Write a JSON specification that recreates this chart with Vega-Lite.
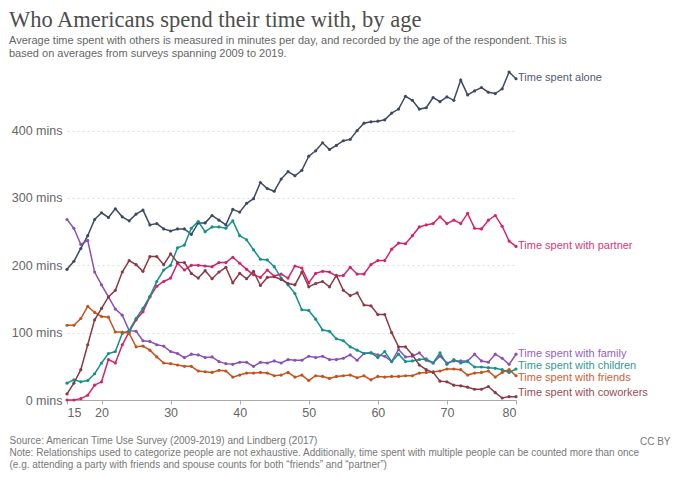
{
  "$schema": "https://vega.github.io/schema/vega-lite/v6.json",
  "width": 449,
  "height": 330,
  "autosize": {"type": "none"},
  "padding": {"left": 67, "top": 70, "right": 164, "bottom": 77},
  "background": "white",
  "title": {
    "text": "Who Americans spend their time with, by age",
    "subtitle": [
      "Average time spent with others is measured in minutes per day, and recorded by the age of the respondent. This is",
      "based on averages from surveys spanning 2009 to 2019."
    ],
    "anchor": "start",
    "frame": "group",
    "dx": -58,
    "offset": 10,
    "font": "Liberation Serif",
    "fontSize": 22.5,
    "fontWeight": "normal",
    "color": "#4d4d4d",
    "subtitleFont": "Liberation Sans",
    "subtitleFontSize": 11,
    "subtitleColor": "#666666",
    "subtitleLineHeight": 13,
    "subtitlePadding": 4
  },
  "datasets": {
    "series": [
      {"age": 15, "who": "alone", "mins": 194}, {"age": 16, "who": "alone", "mins": 206}, {"age": 17, "who": "alone", "mins": 225}, {"age": 18, "who": "alone", "mins": 244},
      {"age": 19, "who": "alone", "mins": 268}, {"age": 20, "who": "alone", "mins": 278}, {"age": 21, "who": "alone", "mins": 271}, {"age": 22, "who": "alone", "mins": 284},
      {"age": 23, "who": "alone", "mins": 272}, {"age": 24, "who": "alone", "mins": 266}, {"age": 25, "who": "alone", "mins": 276}, {"age": 26, "who": "alone", "mins": 282},
      {"age": 27, "who": "alone", "mins": 260}, {"age": 28, "who": "alone", "mins": 262}, {"age": 29, "who": "alone", "mins": 254}, {"age": 30, "who": "alone", "mins": 251},
      {"age": 31, "who": "alone", "mins": 254}, {"age": 32, "who": "alone", "mins": 254}, {"age": 33, "who": "alone", "mins": 246}, {"age": 34, "who": "alone", "mins": 263},
      {"age": 35, "who": "alone", "mins": 263}, {"age": 36, "who": "alone", "mins": 274}, {"age": 37, "who": "alone", "mins": 267}, {"age": 38, "who": "alone", "mins": 260},
      {"age": 39, "who": "alone", "mins": 283}, {"age": 40, "who": "alone", "mins": 279}, {"age": 41, "who": "alone", "mins": 292}, {"age": 42, "who": "alone", "mins": 299},
      {"age": 43, "who": "alone", "mins": 323}, {"age": 44, "who": "alone", "mins": 314}, {"age": 45, "who": "alone", "mins": 310}, {"age": 46, "who": "alone", "mins": 328},
      {"age": 47, "who": "alone", "mins": 339}, {"age": 48, "who": "alone", "mins": 333}, {"age": 49, "who": "alone", "mins": 341}, {"age": 50, "who": "alone", "mins": 362},
      {"age": 51, "who": "alone", "mins": 370}, {"age": 52, "who": "alone", "mins": 382}, {"age": 53, "who": "alone", "mins": 372}, {"age": 54, "who": "alone", "mins": 378},
      {"age": 55, "who": "alone", "mins": 385}, {"age": 56, "who": "alone", "mins": 387}, {"age": 57, "who": "alone", "mins": 400}, {"age": 58, "who": "alone", "mins": 411},
      {"age": 59, "who": "alone", "mins": 413}, {"age": 60, "who": "alone", "mins": 414}, {"age": 61, "who": "alone", "mins": 416}, {"age": 62, "who": "alone", "mins": 426},
      {"age": 63, "who": "alone", "mins": 432}, {"age": 64, "who": "alone", "mins": 451}, {"age": 65, "who": "alone", "mins": 445}, {"age": 66, "who": "alone", "mins": 432},
      {"age": 67, "who": "alone", "mins": 434}, {"age": 68, "who": "alone", "mins": 449}, {"age": 69, "who": "alone", "mins": 443}, {"age": 70, "who": "alone", "mins": 450},
      {"age": 71, "who": "alone", "mins": 445}, {"age": 72, "who": "alone", "mins": 475}, {"age": 73, "who": "alone", "mins": 453}, {"age": 74, "who": "alone", "mins": 459},
      {"age": 75, "who": "alone", "mins": 464}, {"age": 76, "who": "alone", "mins": 457}, {"age": 77, "who": "alone", "mins": 455}, {"age": 78, "who": "alone", "mins": 462},
      {"age": 79, "who": "alone", "mins": 487}, {"age": 80, "who": "alone", "mins": 477},

      {"age": 15, "who": "partner", "mins": 0}, {"age": 16, "who": "partner", "mins": 0}, {"age": 17, "who": "partner", "mins": 2}, {"age": 18, "who": "partner", "mins": 7},
      {"age": 19, "who": "partner", "mins": 22}, {"age": 20, "who": "partner", "mins": 27}, {"age": 21, "who": "partner", "mins": 60}, {"age": 22, "who": "partner", "mins": 55},
      {"age": 23, "who": "partner", "mins": 82}, {"age": 24, "who": "partner", "mins": 101}, {"age": 25, "who": "partner", "mins": 119}, {"age": 26, "who": "partner", "mins": 131},
      {"age": 27, "who": "partner", "mins": 153}, {"age": 28, "who": "partner", "mins": 169}, {"age": 29, "who": "partner", "mins": 176}, {"age": 30, "who": "partner", "mins": 181},
      {"age": 31, "who": "partner", "mins": 203}, {"age": 32, "who": "partner", "mins": 193}, {"age": 33, "who": "partner", "mins": 200}, {"age": 34, "who": "partner", "mins": 200},
      {"age": 35, "who": "partner", "mins": 199}, {"age": 36, "who": "partner", "mins": 198}, {"age": 37, "who": "partner", "mins": 204}, {"age": 38, "who": "partner", "mins": 204},
      {"age": 39, "who": "partner", "mins": 212}, {"age": 40, "who": "partner", "mins": 203}, {"age": 41, "who": "partner", "mins": 194}, {"age": 42, "who": "partner", "mins": 186},
      {"age": 43, "who": "partner", "mins": 182}, {"age": 44, "who": "partner", "mins": 193}, {"age": 45, "who": "partner", "mins": 184}, {"age": 46, "who": "partner", "mins": 187},
      {"age": 47, "who": "partner", "mins": 181}, {"age": 48, "who": "partner", "mins": 199}, {"age": 49, "who": "partner", "mins": 196}, {"age": 50, "who": "partner", "mins": 174},
      {"age": 51, "who": "partner", "mins": 188}, {"age": 52, "who": "partner", "mins": 191}, {"age": 53, "who": "partner", "mins": 190}, {"age": 54, "who": "partner", "mins": 184},
      {"age": 55, "who": "partner", "mins": 185}, {"age": 56, "who": "partner", "mins": 197}, {"age": 57, "who": "partner", "mins": 187}, {"age": 58, "who": "partner", "mins": 187},
      {"age": 59, "who": "partner", "mins": 201}, {"age": 60, "who": "partner", "mins": 207}, {"age": 61, "who": "partner", "mins": 207}, {"age": 62, "who": "partner", "mins": 224},
      {"age": 63, "who": "partner", "mins": 233}, {"age": 64, "who": "partner", "mins": 232}, {"age": 65, "who": "partner", "mins": 244}, {"age": 66, "who": "partner", "mins": 257},
      {"age": 67, "who": "partner", "mins": 260}, {"age": 68, "who": "partner", "mins": 262}, {"age": 69, "who": "partner", "mins": 272}, {"age": 70, "who": "partner", "mins": 262},
      {"age": 71, "who": "partner", "mins": 267}, {"age": 72, "who": "partner", "mins": 262}, {"age": 73, "who": "partner", "mins": 277}, {"age": 74, "who": "partner", "mins": 255},
      {"age": 75, "who": "partner", "mins": 254}, {"age": 76, "who": "partner", "mins": 267}, {"age": 77, "who": "partner", "mins": 274}, {"age": 78, "who": "partner", "mins": 258},
      {"age": 79, "who": "partner", "mins": 236}, {"age": 80, "who": "partner", "mins": 228},

      {"age": 15, "who": "family", "mins": 268}, {"age": 16, "who": "family", "mins": 255}, {"age": 17, "who": "family", "mins": 231}, {"age": 18, "who": "family", "mins": 237},
      {"age": 19, "who": "family", "mins": 190}, {"age": 20, "who": "family", "mins": 171}, {"age": 21, "who": "family", "mins": 153}, {"age": 22, "who": "family", "mins": 135},
      {"age": 23, "who": "family", "mins": 126}, {"age": 24, "who": "family", "mins": 103}, {"age": 25, "who": "family", "mins": 102}, {"age": 26, "who": "family", "mins": 88},
      {"age": 27, "who": "family", "mins": 87}, {"age": 28, "who": "family", "mins": 82}, {"age": 29, "who": "family", "mins": 80}, {"age": 30, "who": "family", "mins": 72},
      {"age": 31, "who": "family", "mins": 69}, {"age": 32, "who": "family", "mins": 63}, {"age": 33, "who": "family", "mins": 68}, {"age": 34, "who": "family", "mins": 67},
      {"age": 35, "who": "family", "mins": 63}, {"age": 36, "who": "family", "mins": 64}, {"age": 37, "who": "family", "mins": 57}, {"age": 38, "who": "family", "mins": 54},
      {"age": 39, "who": "family", "mins": 53}, {"age": 40, "who": "family", "mins": 56}, {"age": 41, "who": "family", "mins": 56}, {"age": 42, "who": "family", "mins": 50},
      {"age": 43, "who": "family", "mins": 56}, {"age": 44, "who": "family", "mins": 55}, {"age": 45, "who": "family", "mins": 58}, {"age": 46, "who": "family", "mins": 55},
      {"age": 47, "who": "family", "mins": 60}, {"age": 48, "who": "family", "mins": 59}, {"age": 49, "who": "family", "mins": 59}, {"age": 50, "who": "family", "mins": 65},
      {"age": 51, "who": "family", "mins": 63}, {"age": 52, "who": "family", "mins": 65}, {"age": 53, "who": "family", "mins": 60}, {"age": 54, "who": "family", "mins": 60},
      {"age": 55, "who": "family", "mins": 62}, {"age": 56, "who": "family", "mins": 67}, {"age": 57, "who": "family", "mins": 59}, {"age": 58, "who": "family", "mins": 69},
      {"age": 59, "who": "family", "mins": 70}, {"age": 60, "who": "family", "mins": 67}, {"age": 61, "who": "family", "mins": 65}, {"age": 62, "who": "family", "mins": 57},
      {"age": 63, "who": "family", "mins": 75}, {"age": 64, "who": "family", "mins": 64}, {"age": 65, "who": "family", "mins": 65}, {"age": 66, "who": "family", "mins": 70},
      {"age": 67, "who": "family", "mins": 59}, {"age": 68, "who": "family", "mins": 55}, {"age": 69, "who": "family", "mins": 65}, {"age": 70, "who": "family", "mins": 55},
      {"age": 71, "who": "family", "mins": 58}, {"age": 72, "who": "family", "mins": 58}, {"age": 73, "who": "family", "mins": 58}, {"age": 74, "who": "family", "mins": 68},
      {"age": 75, "who": "family", "mins": 58}, {"age": 76, "who": "family", "mins": 56}, {"age": 77, "who": "family", "mins": 68}, {"age": 78, "who": "family", "mins": 62},
      {"age": 79, "who": "family", "mins": 53}, {"age": 80, "who": "family", "mins": 68},

      {"age": 15, "who": "children", "mins": 25}, {"age": 16, "who": "children", "mins": 30}, {"age": 17, "who": "children", "mins": 27}, {"age": 18, "who": "children", "mins": 29},
      {"age": 19, "who": "children", "mins": 39}, {"age": 20, "who": "children", "mins": 55}, {"age": 21, "who": "children", "mins": 69}, {"age": 22, "who": "children", "mins": 72},
      {"age": 23, "who": "children", "mins": 99}, {"age": 24, "who": "children", "mins": 103}, {"age": 25, "who": "children", "mins": 121}, {"age": 26, "who": "children", "mins": 136},
      {"age": 27, "who": "children", "mins": 154}, {"age": 28, "who": "children", "mins": 176}, {"age": 29, "who": "children", "mins": 193}, {"age": 30, "who": "children", "mins": 200},
      {"age": 31, "who": "children", "mins": 226}, {"age": 32, "who": "children", "mins": 230}, {"age": 33, "who": "children", "mins": 255}, {"age": 34, "who": "children", "mins": 265},
      {"age": 35, "who": "children", "mins": 250}, {"age": 36, "who": "children", "mins": 257}, {"age": 37, "who": "children", "mins": 257}, {"age": 38, "who": "children", "mins": 255},
      {"age": 39, "who": "children", "mins": 266}, {"age": 40, "who": "children", "mins": 244}, {"age": 41, "who": "children", "mins": 238}, {"age": 42, "who": "children", "mins": 223},
      {"age": 43, "who": "children", "mins": 209}, {"age": 44, "who": "children", "mins": 208}, {"age": 45, "who": "children", "mins": 198}, {"age": 46, "who": "children", "mins": 181},
      {"age": 47, "who": "children", "mins": 171}, {"age": 48, "who": "children", "mins": 158}, {"age": 49, "who": "children", "mins": 134}, {"age": 50, "who": "children", "mins": 133},
      {"age": 51, "who": "children", "mins": 120}, {"age": 52, "who": "children", "mins": 104}, {"age": 53, "who": "children", "mins": 102}, {"age": 54, "who": "children", "mins": 91},
      {"age": 55, "who": "children", "mins": 88}, {"age": 56, "who": "children", "mins": 79}, {"age": 57, "who": "children", "mins": 74}, {"age": 58, "who": "children", "mins": 69},
      {"age": 59, "who": "children", "mins": 70}, {"age": 60, "who": "children", "mins": 63}, {"age": 61, "who": "children", "mins": 72}, {"age": 62, "who": "children", "mins": 57},
      {"age": 63, "who": "children", "mins": 68}, {"age": 64, "who": "children", "mins": 57}, {"age": 65, "who": "children", "mins": 58}, {"age": 66, "who": "children", "mins": 60},
      {"age": 67, "who": "children", "mins": 61}, {"age": 68, "who": "children", "mins": 55}, {"age": 69, "who": "children", "mins": 70}, {"age": 70, "who": "children", "mins": 53},
      {"age": 71, "who": "children", "mins": 60}, {"age": 72, "who": "children", "mins": 55}, {"age": 73, "who": "children", "mins": 57}, {"age": 74, "who": "children", "mins": 49},
      {"age": 75, "who": "children", "mins": 49}, {"age": 76, "who": "children", "mins": 48}, {"age": 77, "who": "children", "mins": 47}, {"age": 78, "who": "children", "mins": 45},
      {"age": 79, "who": "children", "mins": 41}, {"age": 80, "who": "children", "mins": 46},

      {"age": 15, "who": "friends", "mins": 111}, {"age": 16, "who": "friends", "mins": 111}, {"age": 17, "who": "friends", "mins": 121}, {"age": 18, "who": "friends", "mins": 139},
      {"age": 19, "who": "friends", "mins": 130}, {"age": 20, "who": "friends", "mins": 124}, {"age": 21, "who": "friends", "mins": 123}, {"age": 22, "who": "friends", "mins": 101},
      {"age": 23, "who": "friends", "mins": 101}, {"age": 24, "who": "friends", "mins": 99}, {"age": 25, "who": "friends", "mins": 79}, {"age": 26, "who": "friends", "mins": 80},
      {"age": 27, "who": "friends", "mins": 74}, {"age": 28, "who": "friends", "mins": 64}, {"age": 29, "who": "friends", "mins": 55}, {"age": 30, "who": "friends", "mins": 54},
      {"age": 31, "who": "friends", "mins": 52}, {"age": 32, "who": "friends", "mins": 50}, {"age": 33, "who": "friends", "mins": 50}, {"age": 34, "who": "friends", "mins": 43},
      {"age": 35, "who": "friends", "mins": 42}, {"age": 36, "who": "friends", "mins": 41}, {"age": 37, "who": "friends", "mins": 44}, {"age": 38, "who": "friends", "mins": 43},
      {"age": 39, "who": "friends", "mins": 34}, {"age": 40, "who": "friends", "mins": 37}, {"age": 41, "who": "friends", "mins": 40}, {"age": 42, "who": "friends", "mins": 40},
      {"age": 43, "who": "friends", "mins": 41}, {"age": 44, "who": "friends", "mins": 40}, {"age": 45, "who": "friends", "mins": 36}, {"age": 46, "who": "friends", "mins": 37},
      {"age": 47, "who": "friends", "mins": 41}, {"age": 48, "who": "friends", "mins": 34}, {"age": 49, "who": "friends", "mins": 37}, {"age": 50, "who": "friends", "mins": 29},
      {"age": 51, "who": "friends", "mins": 36}, {"age": 52, "who": "friends", "mins": 35}, {"age": 53, "who": "friends", "mins": 32}, {"age": 54, "who": "friends", "mins": 35},
      {"age": 55, "who": "friends", "mins": 36}, {"age": 56, "who": "friends", "mins": 37}, {"age": 57, "who": "friends", "mins": 33}, {"age": 58, "who": "friends", "mins": 36},
      {"age": 59, "who": "friends", "mins": 30}, {"age": 60, "who": "friends", "mins": 35}, {"age": 61, "who": "friends", "mins": 34}, {"age": 62, "who": "friends", "mins": 35},
      {"age": 63, "who": "friends", "mins": 35}, {"age": 64, "who": "friends", "mins": 36}, {"age": 65, "who": "friends", "mins": 36}, {"age": 66, "who": "friends", "mins": 40},
      {"age": 67, "who": "friends", "mins": 41}, {"age": 68, "who": "friends", "mins": 42}, {"age": 69, "who": "friends", "mins": 43}, {"age": 70, "who": "friends", "mins": 46},
      {"age": 71, "who": "friends", "mins": 46}, {"age": 72, "who": "friends", "mins": 45}, {"age": 73, "who": "friends", "mins": 37}, {"age": 74, "who": "friends", "mins": 40},
      {"age": 75, "who": "friends", "mins": 41}, {"age": 76, "who": "friends", "mins": 43}, {"age": 77, "who": "friends", "mins": 34}, {"age": 78, "who": "friends", "mins": 41},
      {"age": 79, "who": "friends", "mins": 45}, {"age": 80, "who": "friends", "mins": 36},

      {"age": 15, "who": "coworkers", "mins": 9}, {"age": 16, "who": "coworkers", "mins": 25}, {"age": 17, "who": "coworkers", "mins": 45}, {"age": 18, "who": "coworkers", "mins": 82},
      {"age": 19, "who": "coworkers", "mins": 119}, {"age": 20, "who": "coworkers", "mins": 136}, {"age": 21, "who": "coworkers", "mins": 153}, {"age": 22, "who": "coworkers", "mins": 163},
      {"age": 23, "who": "coworkers", "mins": 190}, {"age": 24, "who": "coworkers", "mins": 207}, {"age": 25, "who": "coworkers", "mins": 201}, {"age": 26, "who": "coworkers", "mins": 191},
      {"age": 27, "who": "coworkers", "mins": 213}, {"age": 28, "who": "coworkers", "mins": 213}, {"age": 29, "who": "coworkers", "mins": 201}, {"age": 30, "who": "coworkers", "mins": 217},
      {"age": 31, "who": "coworkers", "mins": 204}, {"age": 32, "who": "coworkers", "mins": 204}, {"age": 33, "who": "coworkers", "mins": 188}, {"age": 34, "who": "coworkers", "mins": 181},
      {"age": 35, "who": "coworkers", "mins": 192}, {"age": 36, "who": "coworkers", "mins": 180}, {"age": 37, "who": "coworkers", "mins": 190}, {"age": 38, "who": "coworkers", "mins": 197},
      {"age": 39, "who": "coworkers", "mins": 174}, {"age": 40, "who": "coworkers", "mins": 188}, {"age": 41, "who": "coworkers", "mins": 180}, {"age": 42, "who": "coworkers", "mins": 191},
      {"age": 43, "who": "coworkers", "mins": 170}, {"age": 44, "who": "coworkers", "mins": 182}, {"age": 45, "who": "coworkers", "mins": 183}, {"age": 46, "who": "coworkers", "mins": 179},
      {"age": 47, "who": "coworkers", "mins": 173}, {"age": 48, "who": "coworkers", "mins": 171}, {"age": 49, "who": "coworkers", "mins": 190}, {"age": 50, "who": "coworkers", "mins": 168},
      {"age": 51, "who": "coworkers", "mins": 173}, {"age": 52, "who": "coworkers", "mins": 176}, {"age": 53, "who": "coworkers", "mins": 168}, {"age": 54, "who": "coworkers", "mins": 185},
      {"age": 55, "who": "coworkers", "mins": 163}, {"age": 56, "who": "coworkers", "mins": 155}, {"age": 57, "who": "coworkers", "mins": 159}, {"age": 58, "who": "coworkers", "mins": 141},
      {"age": 59, "who": "coworkers", "mins": 140}, {"age": 60, "who": "coworkers", "mins": 127}, {"age": 61, "who": "coworkers", "mins": 127}, {"age": 62, "who": "coworkers", "mins": 100},
      {"age": 63, "who": "coworkers", "mins": 79}, {"age": 64, "who": "coworkers", "mins": 79}, {"age": 65, "who": "coworkers", "mins": 67}, {"age": 66, "who": "coworkers", "mins": 52},
      {"age": 67, "who": "coworkers", "mins": 45}, {"age": 68, "who": "coworkers", "mins": 41}, {"age": 69, "who": "coworkers", "mins": 28}, {"age": 70, "who": "coworkers", "mins": 27},
      {"age": 71, "who": "coworkers", "mins": 22}, {"age": 72, "who": "coworkers", "mins": 21}, {"age": 73, "who": "coworkers", "mins": 19}, {"age": 74, "who": "coworkers", "mins": 16},
      {"age": 75, "who": "coworkers", "mins": 16}, {"age": 76, "who": "coworkers", "mins": 20}, {"age": 77, "who": "coworkers", "mins": 11}, {"age": 78, "who": "coworkers", "mins": 3},
      {"age": 79, "who": "coworkers", "mins": 5}, {"age": 80, "who": "coworkers", "mins": 5}
    ],
    "labels": [
      {"age": 80, "who": "alone", "labelAt": 478, "label": "Time spent alone"},
      {"age": 80, "who": "partner", "labelAt": 229, "label": "Time spent with partner"},
      {"age": 80, "who": "family", "labelAt": 69, "label": "Time spent with family"},
      {"age": 80, "who": "children", "labelAt": 51, "label": "Time spent with children"},
      {"age": 80, "who": "friends", "labelAt": 33, "label": "Time spent with friends"},
      {"age": 80, "who": "coworkers", "labelAt": 10, "label": "Time spent with coworkers"}
    ]
  },
  "layer": [
    {
      "data": {"name": "series"},
      "mark": {"type": "line", "strokeWidth": 1.5, "point": {"filled": true, "size": 10}},
      "encoding": {
        "x": {
          "field": "age",
          "type": "quantitative",
          "scale": {"domain": [15, 80], "nice": false, "zero": false},
          "axis": {
            "values": [15, 20, 30, 40, 50, 60, 70, 80],
            "grid": false,
            "labelFlush": true,
            "domainColor": "#aaaaaa",
            "tickColor": "#aaaaaa",
            "tickSize": 4,
            "labelFont": "Liberation Sans",
            "labelFontSize": 12.5,
            "labelColor": "#666666",
            "labelPadding": 2,
            "title": [
              "Source: American Time Use Survey (2009-2019) and Lindberg (2017)",
              "Note: Relationships used to categorize people are not exhaustive. Additionally, time spent with multiple people can be counted more than once",
              "(e.g. attending a party with friends and spouse counts for both “friends” and “partner”)"
            ],
            "titleAnchor": "start",
            "titleAlign": "left",
            "titleBaseline": "top",
            "titleX": -58,
            "titleY": 35,
            "titleFont": "Liberation Sans",
            "titleFontSize": 10,
            "titleFontWeight": "normal",
            "titleColor": "#777777",
            "titleLineHeight": 12
          }
        },
        "y": {
          "field": "mins",
          "type": "quantitative",
          "scale": {"domain": [0, 490], "nice": false},
          "axis": {
            "values": [0, 100, 200, 300, 400],
            "labelExpr": "datum.label + ' mins'",
            "domain": false,
            "ticks": false,
            "grid": true,
            "gridColor": "#dddddd",
            "gridDash": [2, 3],
            "labelFont": "Liberation Sans",
            "labelFontSize": 12.5,
            "labelColor": "#666666",
            "labelPadding": 5,
            "title": "CC BY",
            "titleAngle": 0,
            "titleAlign": "right",
            "titleBaseline": "middle",
            "titleX": 603,
            "titleY": 371,
            "titleFont": "Liberation Sans",
            "titleFontSize": 10,
            "titleFontWeight": "normal",
            "titleColor": "#777777"
          }
        },
        "color": {
          "field": "who",
          "type": "nominal",
          "scale": {
            "domain": ["alone", "partner", "family", "children", "friends", "coworkers"],
            "range": ["#3c4a63", "#d2236d", "#8a50b5", "#13918a", "#c5511c", "#8a3a44"]
          },
          "legend": null
        }
      }
    },
    {
      "data": {"name": "labels"},
      "mark": {"type": "text", "align": "left", "baseline": "middle", "dx": 2, "font": "Liberation Sans", "fontSize": 11, "opacity": 0.9},
      "encoding": {
        "x": {"field": "age", "type": "quantitative"},
        "y": {"field": "labelAt", "type": "quantitative"},
        "text": {"field": "label"},
        "color": {"field": "who", "type": "nominal", "legend": null}
      }
    }
  ],
  "config": {"view": {"stroke": null}}
}
